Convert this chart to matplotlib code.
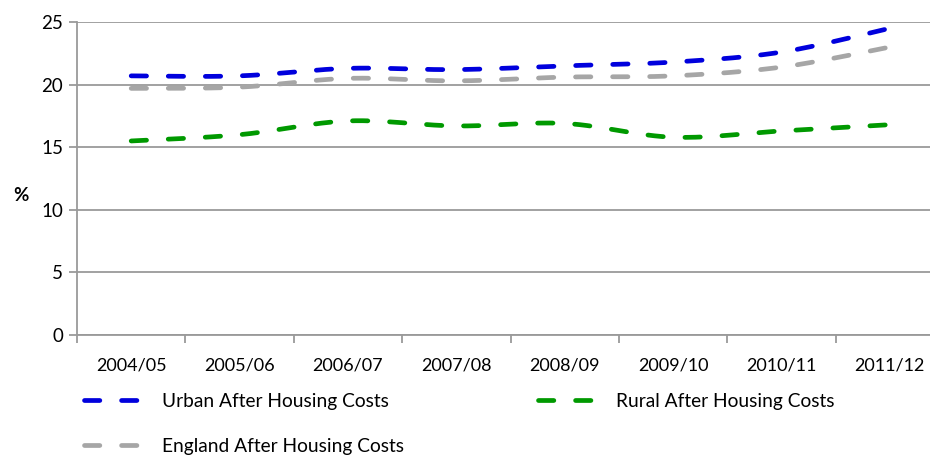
import numpy as np
import matplotlib
matplotlib.use("Agg")
import matplotlib.pyplot as plt

plt.rcParams['font.family'] = ['Lato', 'DejaVu Sans']

years = ['2004/05', '2005/06', '2006/07', '2007/08', '2008/09', '2009/10', '2010/11', '2011/12']
urban_ahc = [20.7, 20.7, 21.3, 21.2, 21.5, 21.8, 22.6, 24.5]
rural_ahc = [15.5, 16.0, 17.1, 16.7, 16.9, 15.8, 16.3, 16.8]
england_ahc = [19.7, 19.8, 20.5, 20.3, 20.6, 20.7, 21.4, 23.0]


def smooth(y, steps=30):
    # Bezier segments through every point, control handles from the neighbours
    y = np.asarray(y, dtype=float)
    x = np.arange(len(y), dtype=float)
    pts = np.column_stack([x, y])
    pad = np.vstack([pts[0], pts, pts[-1]])
    out = []
    t = np.linspace(0, 1, steps)[:, None]
    for i in range(len(pts) - 1):
        p0, p3 = pad[i + 1], pad[i + 2]
        c1 = p0 + (pad[i + 2] - pad[i]) / 6
        c2 = p3 - (pad[i + 3] - pad[i + 1]) / 6
        seg = ((1 - t) ** 3) * p0 + 3 * ((1 - t) ** 2) * t * c1 + 3 * (1 - t) * t ** 2 * c2 + t ** 3 * p3
        out.append(seg if i == 0 else seg[1:])
    seg = np.vstack(out)
    return seg[:, 0], seg[:, 1]


fig = plt.figure(figsize=(9.3, 4.55), dpi=100)
ax = fig.add_axes([0.0828, 0.2637, 0.9323, 0.6879])

series = [
    ('Urban After Housing Costs', urban_ahc, '#0000dd'),
    ('England After Housing Costs', england_ahc, '#a6a6a6'),
    ('Rural After Housing Costs', rural_ahc, '#009900'),
]
for label, vals, col in series:
    sx, sy = smooth(vals)
    ax.plot(sx, sy, color=col, lw=3.4, linestyle=(0, (3.25, 4.6)),
            dash_capstyle='round', label=label)

ax.set_xlim(-0.5, len(years) - 0.5)
ax.set_ylim(0, 25)
ax.set_yticks(range(0, 26, 5))
ax.grid(axis='y', color='#9a9a9a', lw=1.3)
ax.set_axisbelow(True)

ax.set_xticks(range(len(years)))
ax.set_xticklabels(years)
ax.set_xticks(np.arange(-0.5, len(years), 1), minor=True)
ax.tick_params(axis='x', which='major', length=0, pad=16, labelsize=13)
ax.tick_params(axis='x', which='minor', length=6, width=1.3, color='#9a9a9a')
ax.tick_params(axis='y', length=6, width=1.3, color='#9a9a9a', labelsize=13.5, pad=4)

for s in ['top', 'right']:
    ax.spines[s].set_visible(False)
for s in ['left', 'bottom']:
    ax.spines[s].set_color('#9a9a9a')
    ax.spines[s].set_linewidth(1.3)

ax.set_ylabel('%', rotation=0, fontweight='bold', fontsize=13.5, va='center')
ax.yaxis.set_label_coords(-0.065, 0.447)

fig.legend(loc='upper left', bbox_to_anchor=(0.0823, 0.153), ncol=2, frameon=False,
           fontsize=13.8, handlelength=2.77, handletextpad=1.28, columnspacing=7.0,
           labelspacing=1.45, borderaxespad=0)

fig.savefig('out.png', dpi=100)
